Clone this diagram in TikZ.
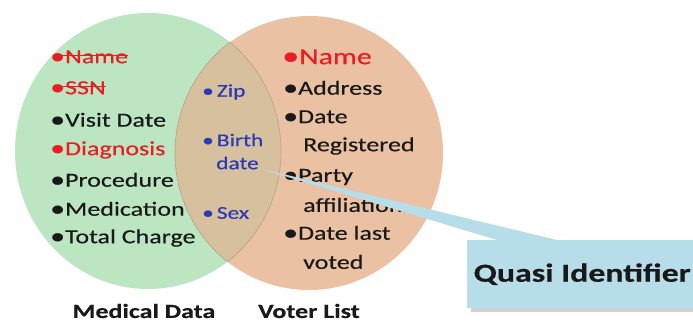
\documentclass[tikz,border=0pt]{standalone}
\usepackage{fontspec}
\setmainfont{Carlito}[FakeStretch=1.3, FakeBold=0.4]
\definecolor{medgreen}{HTML}{BCE6C2}
\definecolor{voterorange}{HTML}{EBC1A3}
\definecolor{lenscol}{HTML}{D6C09E}
\definecolor{calloutblue}{HTML}{B7DDE8}
\definecolor{txtred}{HTML}{EC1C24}
\definecolor{txtblue}{HTML}{2B3BB5}
\definecolor{edgepurple}{HTML}{3A1E6A}
\newcommand{\bul}{\raisebox{-0.5pt}{\scalebox{1.15}{•}}}
\tikzset{
  item/.style={anchor=west, inner sep=0pt, font=\fontsize{20}{22}\selectfont, text=black!90},
  lensitem/.style={anchor=west, inner sep=0pt, font=\fontsize{18}{20}\selectfont, text=txtblue},
  caption/.style={anchor=center, inner sep=0pt, font=\bfseries\fontsize{20}{22}\selectfont, text=black!90},
  strike/.style={txtred, line width=1.3pt},
}
\begin{document}
\begin{tikzpicture}[x=1pt,y=-1pt]
\useasboundingbox (0,0) rectangle (693,323);
\fill[white] (0,0) rectangle (693,323);
% corner artefacts
\draw[edgepurple, line width=3pt] (1,-2) arc[start angle=200, end angle=250, radius=14];
\draw[edgepurple, line width=4pt] (-2,276) arc[start angle=150, end angle=210, radius=28];
% circles
\fill[medgreen] (148,151) ellipse[x radius=133, y radius=138];
\fill[voterorange] (309,153) ellipse[x radius=134, y radius=137];
\begin{scope}
  \clip (148,151) ellipse[x radius=133, y radius=138];
  \fill[lenscol] (309,153) ellipse[x radius=134, y radius=137];
  \draw[lenscol!85!black, line width=0.6pt] (309,153) ellipse[x radius=134, y radius=137];
\end{scope}
\begin{scope}
  \clip (309,153) ellipse[x radius=134, y radius=137];
  \draw[lenscol!85!black, line width=0.6pt] (148,151) ellipse[x radius=133, y radius=138];
\end{scope}
% medical list
\node[item, text=txtred] (m1) at (50,57) {\bul Name};
\node[item, text=txtred] (m2) at (50,88) {\bul SSN};
\draw[strike] ([xshift=10pt,yshift=1.5pt]m1.west) -- ([yshift=1.5pt]m1.east);
\draw[strike] ([xshift=10pt,yshift=1.5pt]m2.west) -- ([yshift=1.5pt]m2.east);
\node[item] (m3) at (50,120) {\bul Visit Date};
\node[item, text=txtred] (m4) at (50,150) {\bul Diagnosis};
\node[item] (m5) at (50,180) {\bul Procedure};
\node[item] (m6) at (50,209) {\bul Medication};
\node[item] (m7) at (50,238) {\bul Total Charge};
% lens list
\node[lensitem] (q1) at (202,92) {•\hspace{3pt}Zip};
\node[lensitem] (q2) at (202,140) {•\hspace{3pt}Birth};
\node[lensitem] (q3) at (216,163) {date};
\node[lensitem] (q4) at (202,213) {•\hspace{3pt}Sex};
% voter list
\node[item, text=txtred, font=\fontsize{23}{25}\selectfont] (v1) at (282,57) {\bul Name};
\node[item] (v2) at (283,88) {\bul Address};
\node[item] (v3) at (283,117) {\bul Date};
\node[item] (v4) at (303,146) {Registered};
\node[item] (v5) at (283,177) {\bul Party};
\node[item] (v6) at (303,205) {affiliation};
\node[item] (v7) at (283,233) {\bul Date last};
\node[item] (v8) at (303,262) {voted};
% captions
\node[caption] (cm) at (144,311) {Medical Data};
\node[caption] (cv) at (309,311) {Voter List};
% callout
\coordinate (tip) at (258,168);
\fill[black, opacity=0.18] (471,243) rectangle (696,312);
\node[fill=calloutblue, minimum width=226pt, minimum height=68pt, inner sep=0pt, anchor=north west,
      font=\bfseries\fontsize{26}{28}\selectfont, text=black!90] (qi) at (467,240) {\hspace*{4pt}Quasi Identifier};
\fill[calloutblue] ([xshift=30pt]qi.north west) -- (tip) -- ([xshift=90pt]qi.north west) -- cycle;
\end{tikzpicture}
\end{document}
